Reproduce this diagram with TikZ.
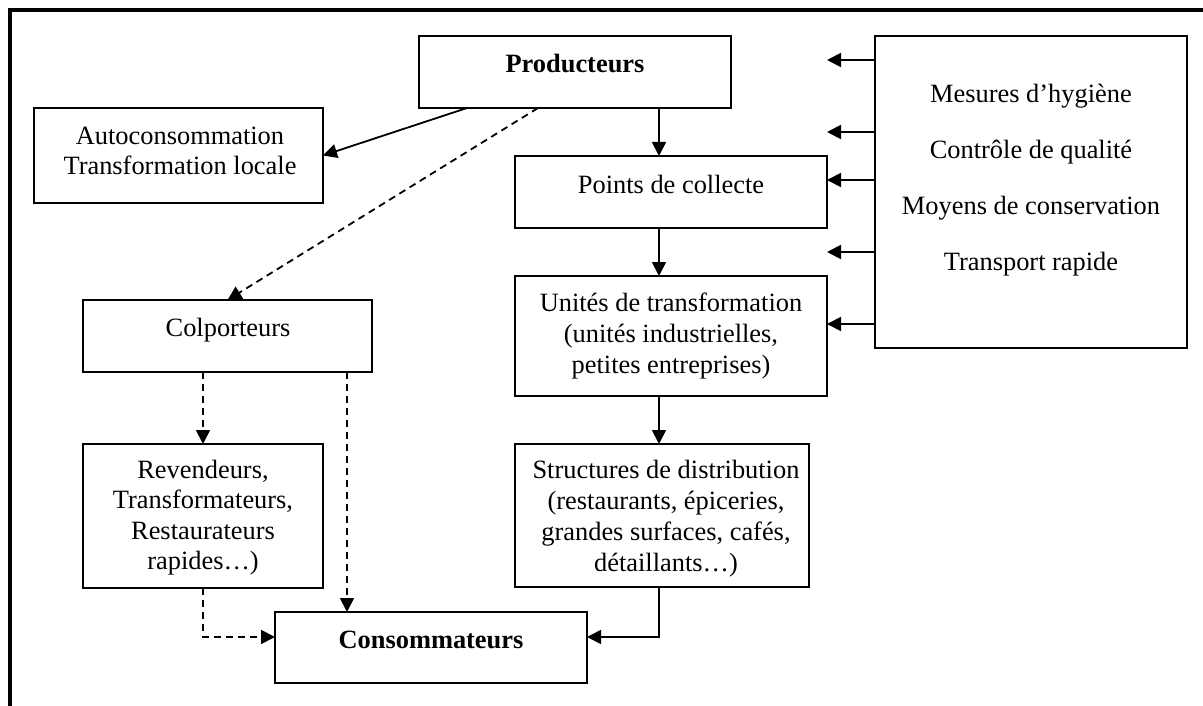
\documentclass[tikz,border=0pt]{standalone}
\usepackage{fontspec}
\setmainfont{Liberation Serif}
\usetikzlibrary{arrows.meta}
\newcommand\fl{\rule{0pt}{24pt}}
\begin{document}
\begin{tikzpicture}[x=1pt,y=-1pt,
 box/.style={draw, line width=2pt, inner sep=0pt, outer sep=0pt, anchor=north west},
 lbl/.style={font=\fontsize{26.4}{30}\selectfont, align=center, inner sep=0pt, anchor=north},
 arr/.style={line width=1.8pt, -{Triangle[length=14pt,width=14pt]}},
 darr/.style={arr, dash pattern=on 7pt off 5pt},
 frame/.style={line width=4pt}]
\useasboundingbox (0,0) rectangle (1203,706);
% frame
\coordinate (f1) at (1203,10);
\coordinate (f0) at (10,10);
\coordinate (f2) at (10,706);
\draw[frame] (f1) -- (8,10);
\draw[frame] (10,8) -- (f2);
% boxes
\node[box, minimum width=312pt, minimum height=72pt] (P) at (419,36) {};
\node[box, minimum width=289pt, minimum height=95pt] (A) at (34,108) {};
\node[box, minimum width=312pt, minimum height=72pt] (Pt) at (515,156) {};
\node[box, minimum width=312pt, minimum height=120pt] (U) at (515,276) {};
\node[box, minimum width=294pt, minimum height=143pt] (S) at (515,444) {};
\node[box, minimum width=289pt, minimum height=72pt] (Col) at (83,300) {};
\node[box, minimum width=240pt, minimum height=144pt] (R) at (83,444) {};
\node[box, minimum width=312pt, minimum height=71pt] (C) at (275,612) {};
\node[box, minimum width=312pt, minimum height=312pt] (M) at (875,36) {};
% texts
\node[lbl] (tP) at (575,48) {\fl\textbf{Producteurs}};
\node[lbl] (tA) at (180,120) {\fl Autoconsommation\\Transformation locale};
\node[lbl] (tPt) at (671,169) {\fl Points de collecte};
\node[lbl, font=\fontsize{26.4}{31}\selectfont] (tU) at (671,287) {\fl Unités de transformation\\(unités industrielles,\\petites entreprises)};
\node[lbl, font=\fontsize{26.4}{31}\selectfont] (tS) at (666,454) {\fl Structures de distribution\\(restaurants, épiceries,\\grandes surfaces, cafés,\\détaillants…)};
\node[lbl] (tCol) at (228,312) {\fl Colporteurs};
\node[lbl, font=\fontsize{26.4}{30.5}\selectfont] (tR) at (203,454) {\fl Revendeurs,\\Transformateurs,\\Restaurateurs\\rapides…)};
\node[lbl] (tC) at (431,624) {\fl\textbf{Consommateurs}};
\node[lbl, font=\fontsize{26.4}{56}\selectfont] (tM) at (1031,78) {\fl Mesures d’hygiène\\Contrôle de qualité\\Moyens de conservation\\Transport rapide};
% helper coordinates
\coordinate (xa) at (659,0);
\coordinate (xb) at (347,0);
\coordinate (xc) at (467,0);
\coordinate (xd) at (538,0);
\coordinate (yc) at (0,637);
\coordinate (y1) at (0,60);
\coordinate (y2) at (0,132);
\coordinate (y3) at (0,180);
\coordinate (y4) at (0,252);
\coordinate (y5) at (0,324);
% connectors
\draw[arr] (P.south -| xa) -- (Pt.north -| xa);
\draw[arr] (Pt.south -| xa) -- (U.north -| xa);
\draw[arr] (U.south -| xa) -- (S.north -| xa);
\draw[arr] (S.south -| xa) |- (C.east |- yc);
\draw[arr] (P.south -| xc) -- (A.east);
\draw[darr] (P.south -| xd) -- (Col.north);
\draw[darr] (Col.south -| R.north) -- (R.north);
\draw[darr] (Col.south -| xb) -- (C.north -| xb);
\draw[darr] (R.south) |- (C.west |- yc);
\foreach \y in {y1,y2,y3,y4,y5}
  \draw[arr] (M.west |- \y) -- (Pt.east |- \y);
\end{tikzpicture}
\end{document}
